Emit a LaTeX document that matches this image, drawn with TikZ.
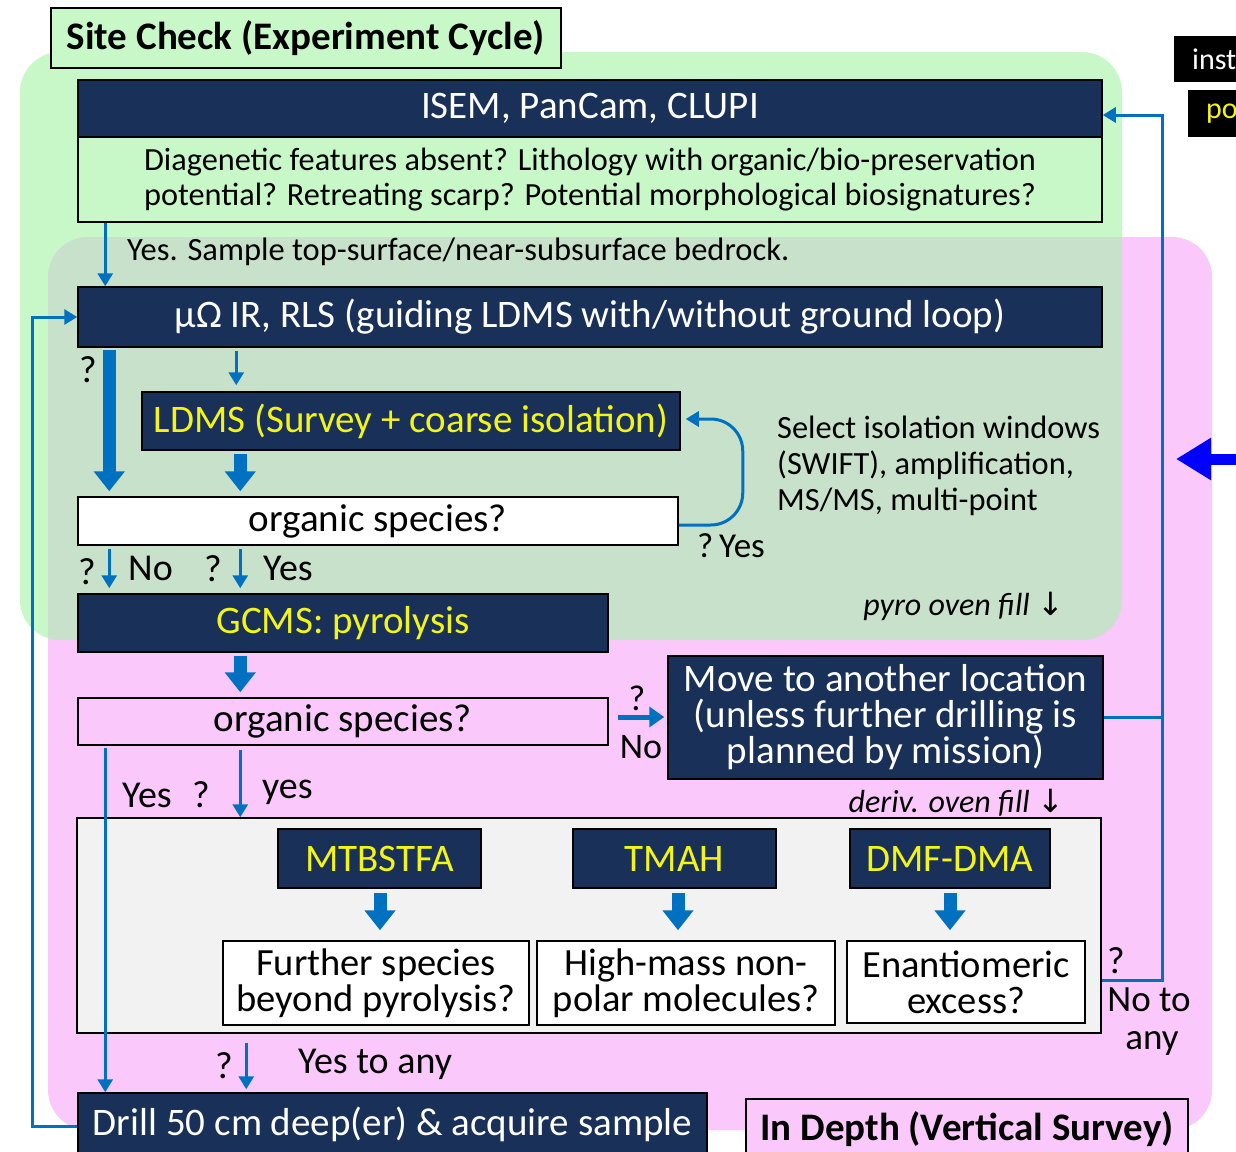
\documentclass[tikz,border=0pt]{standalone}
\usepackage{fontspec}
\setmainfont{Carlito}
\newfontfamily\symf{DejaVu Sans}
\usetikzlibrary{arrows.meta}
\definecolor{navy}{RGB}{25,48,89}
\definecolor{ytext}{RGB}{245,245,20}
\definecolor{greenbg}{RGB}{200,248,200}
\definecolor{pinkbg}{RGB}{250,200,250}
\definecolor{overlapbg}{RGB}{200,225,202}
\definecolor{enclbg}{RGB}{242,242,242}
\definecolor{bl}{RGB}{0,112,192}
\definecolor{purebl}{RGB}{0,0,255}
\newcommand\fz[2]{\fontsize{#1}{#2}\selectfont}
\begin{document}
\begin{tikzpicture}[x=1pt,y=-1pt,
  navybox/.style={fill=navy,draw=black,line width=1.5pt,inner sep=0pt,text=white,align=center},
  ylw/.style={text=ytext},
  wbox/.style={fill=white,draw=black,line width=1.5pt,inner sep=0pt,align=center},
  lbl/.style={inner sep=0pt,text=black},
  tarrow/.style={draw=bl,line width=3pt,-{Triangle[width=15pt,length=13pt]}},
  barrow/.style={draw=bl,line width=13pt,-{Triangle[width=30pt,length=20pt]}},
  marrow/.style={draw=bl,line width=5pt,-{Triangle[width=20pt,length=15pt]}},
  bline/.style={draw=bl,line width=3pt},
]
\useasboundingbox (0,0) rectangle (1236,1151);
\clip (0,0) rectangle (1236,1151);
% backgrounds
\fill[greenbg,rounded corners=40pt] (20,52) rectangle (1122,640);
\fill[pinkbg,rounded corners=40pt] (48,237) rectangle (1212,1130);
\begin{scope}
  \clip[rounded corners=40pt] (20,52) rectangle (1122,640);
  \fill[overlapbg,rounded corners=40pt] (48,237) rectangle (1212,1130);
\end{scope}

% title boxes
\node[fill=greenbg,draw=black,line width=1.5pt,minimum width=510pt,minimum height=60pt,inner sep=0pt,font=\fz{39}{39}\bfseries] (title1) at (306,38) {Site Check (Experiment Cycle)};
\node[fill=pinkbg,draw=black,line width=1.5pt,minimum width=442pt,minimum height=66pt,inner sep=0pt,anchor=north,font=\fz{39}{39}\bfseries,text depth=12pt] (title2) at (967,1098) {In Depth (Vertical Survey)};

% legend boxes at right edge
\node[fill=black,text=white,minimum height=46pt,minimum width=90pt,anchor=west,inner sep=0pt,font=\fz{30}{30},text width=78pt,align=left] (inst) at (1174,59) {\hspace*{12pt}inst};
\node[fill=black,text=ytext,minimum height=47pt,minimum width=80pt,anchor=west,inner sep=0pt,font=\fz{30}{30},text width=68pt,align=left] (po) at (1188,113.5) {\hspace*{12pt}po};

% big blue arrow at right edge
\draw[purebl,line width=11pt,-{Triangle[width=40pt,length=35pt]}] (1240,459) -- (1176,459);

% ISEM box
\node[navybox,minimum width=1024pt,minimum height=57pt,font=\fz{39}{39}] (isemh) at (590,108.5) {ISEM, PanCam, CLUPI};
\node[fill=greenbg,draw=black,line width=1.5pt,inner sep=0pt,minimum width=1024pt,minimum height=85pt,align=center,font=\fz{32.3}{35}] (isemb) at (590,179.5) {Diagenetic features absent? Lithology with organic/bio-preservation\\potential? Retreating scarp? Potential morphological biosignatures?};

\node[lbl,anchor=west,font=\fz{32.5}{32.5}] (yessample) at (127,252) {Yes. Sample top-surface/near-subsurface bedrock.};

% mu box
\node[navybox,minimum width=1024pt,minimum height=60pt,font=\fz{39}{39}] (mu) at (590,317) {µΩ IR, RLS (guiding LDMS with/without ground loop)};

\node[navybox,ylw,minimum width=538pt,minimum height=58pt,font=\fz{39}{39}] (ldms) at (411,421) {LDMS (Survey + coarse isolation)};

\node[wbox,minimum width=600pt,minimum height=48pt,font=\fz{39}{39}] (org1) at (378,521) {organic species?};

\node[navybox,ylw,minimum width=530pt,minimum height=58pt,font=\fz{39}{39}] (gcms) at (343,623) {GCMS: pyrolysis};

\node[wbox,fill=pinkbg,minimum width=530pt,minimum height=47pt,font=\fz{39}{39}] (org2) at (343,721.5) {organic species?};

\node[navybox,minimum width=435pt,minimum height=123pt,font=\fz{39}{36}] (move) at (885.5,717.5) {Move to another location\\(unless further drilling is\\planned by mission)};

\node[fill=enclbg,draw=black,line width=1.5pt,minimum width=1024pt,minimum height=215pt,inner sep=0pt] (encl) at (589,925.5) {};

\node[navybox,ylw,minimum width=203pt,minimum height=59pt,font=\fz{39}{39}] (mtb) at (379.5,858.5) {MTBSTFA};
\node[navybox,ylw,minimum width=203pt,minimum height=59pt,font=\fz{39}{39}] (tmah) at (674.5,858.5) {TMAH};
\node[navybox,ylw,minimum width=200pt,minimum height=59pt,font=\fz{39}{39}] (dmf) at (950,858.5) {DMF-DMA};

\node[wbox,minimum width=306pt,minimum height=84pt,font=\fz{38.5}{36}] (fs) at (376,983) {Further species\\beyond pyrolysis?};
\node[wbox,minimum width=298pt,minimum height=84pt,font=\fz{38.5}{36}] (hm) at (686,983) {High-mass non-\\polar molecules?};
\node[wbox,minimum width=238pt,minimum height=82pt,font=\fz{38.5}{36}] (en) at (966,982) {Enantiomeric\\excess?};

\node[navybox,minimum width=629pt,minimum height=67pt,font=\fz{39}{39},text depth=10pt] (drill) at (392.5,1126.5) {Drill 50 cm deep(er) \& acquire sample};

% labels
\node[lbl,font=\fz{38}{38}] (q1) at (88,370) {?};
\node[lbl,anchor=north west,align=left,font=\fz{32.4}{36}] (selnote) at (777,416) {Select isolation windows\\(SWIFT), amplification,\\MS/MS, multi-point};
\node[lbl,anchor=west,font=\fz{35}{35}] (qyes1) at (697,546) {?\,Yes};
\node[lbl,font=\fz{38}{38}] (q2) at (87,572) {?};
\node[lbl,anchor=west,font=\fz{38}{38}] (no1) at (128,568) {No};
\node[lbl,font=\fz{38}{38}] (q3) at (213,569) {?};
\node[lbl,anchor=west,font=\fz{38}{38}] (yes1) at (263,568) {Yes};
\node[lbl,anchor=east,font=\fz{32}{32}\itshape] (pyro) at (1064,606) {pyro oven fill {\symf\upshape ↓}};
\node[lbl,font=\fz{36}{36}] (q4) at (637,698) {?};
\node[lbl,font=\fz{36}{36}] (no2) at (641,747) {No};
\node[lbl,anchor=west,font=\fz{38}{38}] (yes2) at (122,795) {Yes};
\node[lbl,font=\fz{38}{38}] (q5) at (201,795) {?};
\node[lbl,anchor=west,font=\fz{38}{38}] (yes3) at (262,792) {yes};
\node[lbl,anchor=east,font=\fz{32}{32}\itshape] (deriv) at (1064,803) {deriv. oven fill {\symf\upshape ↓}};
\node[lbl,font=\fz{38}{38}] (q6) at (1116,961) {?};
\node[lbl,align=center,font=\fz{37}{38}] (noto) at (1149,1022) {No to\\\hspace*{6pt}any};
\node[lbl,font=\fz{38}{38}] (q7) at (224,1066) {?};
\node[lbl,anchor=west,font=\fz{38}{38}] (yesany) at (298,1064) {Yes to any};

% connectors
\coordinate (rx) at (1162,980);
\draw[tarrow] ([xshift=28pt]isemb.south west) -- ([xshift=28pt]mu.north west);
\draw[barrow,shorten <=2pt,shorten >=5pt] ([xshift=32pt]mu.south west) -- ([xshift=32pt]org1.north west);
\draw[tarrow,shorten <=3pt,shorten >=6pt] ([xshift=159pt]mu.south west) -- ([xshift=159pt]mu.south west |- ldms.north);
\draw[barrow,shorten <=3pt,shorten >=5pt] ([xshift=99pt]ldms.south west) -- ([xshift=163pt]org1.north west);
\draw[tarrow,shorten <=3pt,shorten >=5pt] ([xshift=32pt]org1.south west) -- ([xshift=32pt]gcms.north west);
\draw[tarrow,shorten <=3pt,shorten >=5pt] ([xshift=163pt]org1.south west) -- ([xshift=163pt]gcms.north west);
\draw[barrow,shorten <=3pt,shorten >=5pt] ([xshift=163pt]gcms.south west) -- ([xshift=163pt]org2.north west);
\draw[marrow,shorten <=9pt,shorten >=3pt] ([yshift=4.5pt]org2.east) -- ([yshift=4.5pt]move.west |- org2.east);
\draw[tarrow,shorten <=2pt] ([xshift=28pt]org2.south west) -- ([xshift=28pt]drill.north west);
\draw[tarrow,shorten <=4pt] ([xshift=163pt]org2.south west) -- ([xshift=164pt]encl.north west);
\draw[barrow,shorten <=4pt,shorten >=10pt] ([xshift=0.5pt]mtb.south) -- ([xshift=0.5pt]mtb.south |- fs.north);
\draw[barrow,shorten <=4pt,shorten >=10pt] ([xshift=3.5pt]tmah.south) -- ([xshift=3.5pt]tmah.south |- hm.north);
\draw[barrow,shorten <=4pt,shorten >=10pt] (dmf.south) -- (dmf.south |- en.north);
\draw[tarrow,shorten <=9pt,shorten >=3pt] ([xshift=170pt]encl.south west) -- ([xshift=170pt]encl.south west |- drill.north);
\draw[tarrow] (drill.west) -- ++(-45,0) |- (mu.west);
\draw[tarrow] ([yshift=-54.5pt]encl.east) -- (rx) |- ([yshift=-6.5pt]isemh.east);
\draw[bline] (move.east) -- (move.east -| rx);
\draw[tarrow,rounded corners=32pt,shorten >=5pt] ([yshift=-4pt]org1.east) -- ++(64,0) |- ([yshift=2pt]ldms.east);
\end{tikzpicture}
\end{document}
